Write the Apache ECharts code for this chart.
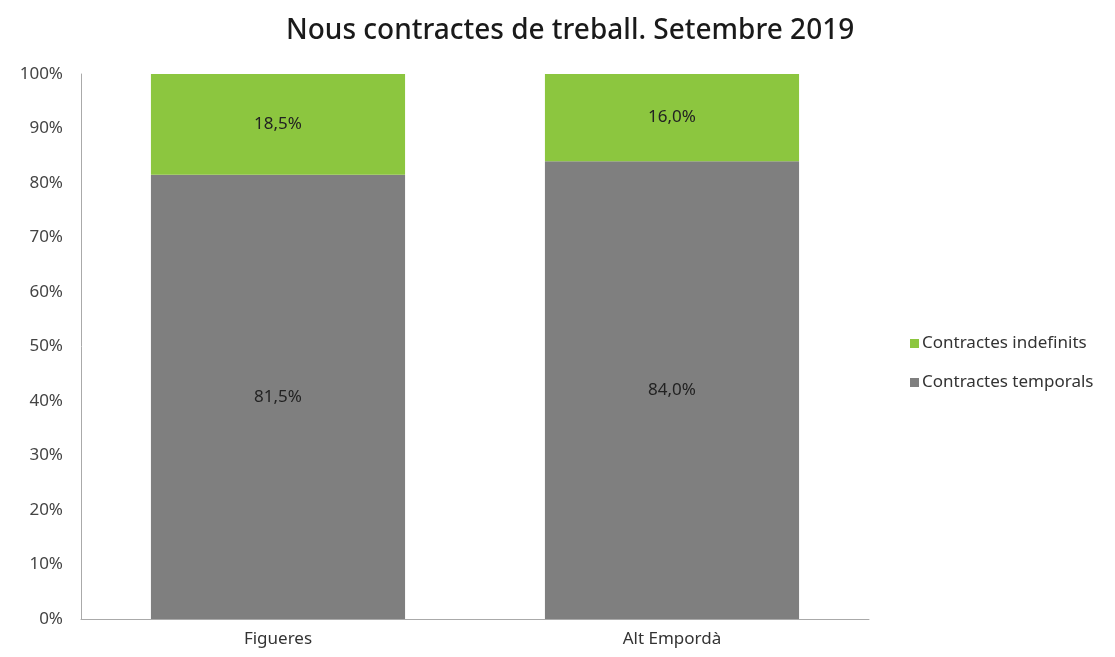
<!DOCTYPE html>
<html><head><meta charset="utf-8">
<script src="https://cdn.jsdelivr.net/npm/echarts@6/dist/echarts.min.js"></script>
<style>html,body{margin:0;padding:0;background:#fff}#c{width:1115px;height:657px}</style>
</head><body><div id="c"></div>
<script>
const categories = ['Figueres', 'Alt Empordà'];
const temporals = [81.5, 84.0];
const indefinits = [18.5, 16.0];
const yTicks = [0, 10, 20, 30, 40, 50, 60, 70, 80, 90, 100];
const FONT = '"Noto Sans", "Open Sans", sans-serif';
const chart = echarts.init(document.getElementById('c'));
const fmt = v => v.toFixed(1).replace('.', ',') + '%';
chart.setOption({
  animation: false,
  textStyle: { fontFamily: FONT },
  title: { text: 'Nous contractes de treball. Setembre 2019', left: 281, top: 12,
    textStyle: { fontFamily: FONT, fontSize: 28, fontWeight: 500, color: '#1a1a1a' } },
  legend: { orient: 'vertical', left: 905, top: 330, itemWidth: 9, itemHeight: 9, itemGap: 22, icon: 'rect',
    data: ['Contractes indefinits', 'Contractes temporals'],
    textStyle: { fontFamily: FONT, fontSize: 17, color: '#333', padding: [0, 0, 0, -2] } },
  grid: { left: 81, right: 246, top: 74, bottom: 38 },
  xAxis: { type: 'category', data: categories,
    axisLine: { lineStyle: { color: '#aaa' } }, axisTick: { show: false },
    axisLabel: { fontFamily: FONT, fontSize: 17, color: '#333', margin: 12 } },
  yAxis: { type: 'value', min: 0, max: 100, interval: 10,
    axisLine: { show: true, lineStyle: { color: '#aaa' } }, splitLine: { show: false },
    axisLabel: { fontFamily: FONT, fontSize: 17, color: '#444', margin: 18,
      formatter: v => yTicks.includes(v) ? v + '%' : '' } },
  series: [
    { name: 'Contractes temporals', type: 'bar', stack: 's', data: temporals, barWidth: '64.5%',
      itemStyle: { color: '#7f7f7f' },
      label: { show: true, position: 'inside', formatter: p => fmt(p.value), fontFamily: FONT, fontSize: 17, color: '#222' } },
    { name: 'Contractes indefinits', type: 'bar', stack: 's', data: indefinits, barWidth: '64.5%',
      itemStyle: { color: '#8cc63f' },
      label: { show: true, position: 'inside', formatter: p => fmt(p.value), fontFamily: FONT, fontSize: 17, color: '#222' } }
  ]
});
</script></body></html>
